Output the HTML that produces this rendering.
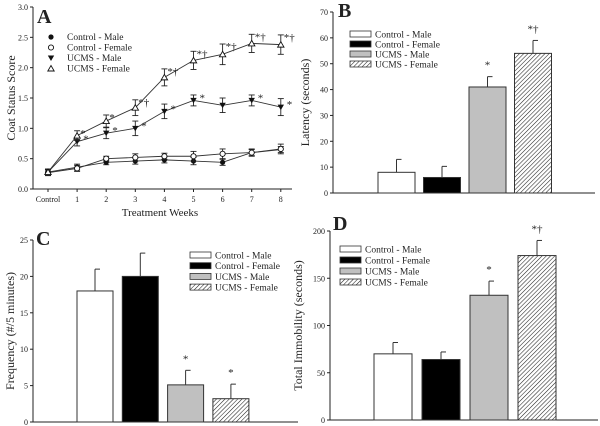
<!DOCTYPE html>
<html><head><meta charset="utf-8"><style>
html,body{margin:0;padding:0;background:#fff;}
svg{display:block;font-family:"Liberation Serif",serif;}
</style></head><body>
<svg id="fig" width="600" height="426" viewBox="0 0 600 426" xmlns="http://www.w3.org/2000/svg">
<defs>
<pattern id="hatch" patternUnits="userSpaceOnUse" width="3" height="3" patternTransform="rotate(45)">
<rect width="3" height="3" fill="#fff"/><line x1="0" y1="0" x2="0" y2="3" stroke="#222" stroke-width="1.1"/></pattern>
</defs>
</svg>
<script>
// Panel A data
const weeksA = ["Control","1","2","3","4","5","6","7","8"];
const ctrlMaleA = [0.28,0.36,0.44,0.46,0.48,0.46,0.44,0.60,0.65];
const ctrlMaleErrA = [0.05,0.05,0.04,0.05,0.05,0.06,0.05,0.05,0.05];
const ctrlFemaleA = [0.27,0.34,0.50,0.52,0.54,0.54,0.58,0.60,0.66];
const ctrlFemaleErrA = [0.05,0.05,0.04,0.06,0.05,0.08,0.08,0.06,0.08];
const ucmsMaleA = [0.28,0.78,0.92,1.00,1.28,1.46,1.38,1.46,1.35];
const ucmsMaleErrA = [0.05,0.07,0.09,0.12,0.12,0.09,0.12,0.09,0.14];
const ucmsFemaleA = [0.28,0.88,1.12,1.34,1.84,2.12,2.22,2.40,2.38];
const ucmsFemaleErrA = [0.05,0.08,0.10,0.13,0.14,0.15,0.17,0.15,0.16];
const ticksA = [0,0.5,1.0,1.5,2.0,2.5,3.0];
const starsMaleA = ["","*","*","*","*","*","","*","*"];
const starsFemaleA = ["","*","*","*†","*†","*†","*†","*†","*†"];
// Bar panels
const groups = ["Control - Male","Control - Female","UCMS - Male","UCMS - Female"];
const latencyB = [8,6,41,54];
const latencyErrB = [5,4.3,4,5];
const starsB = ["","","*","*†"];
const ticksB = [0,10,20,30,40,50,60,70];
const freqC = [18,20,5.1,3.2];
const freqErrC = [3,3.2,2,2];
const starsC = ["","","*","*"];
const ticksC = [0,5,10,15,20,25];
const immD = [70,64,132,174];
const immErrD = [12,8,15,16];
const starsD = ["","","*","*†"];
const ticksD = [0,50,100,150,200];

const svg = document.getElementById('fig');
const NS = "http://www.w3.org/2000/svg";
function el(tag, attrs, parent){const e=document.createElementNS(NS,tag);for(const k in attrs)e.setAttribute(k,attrs[k]);(parent||svg).appendChild(e);return e;}
function txt(x,y,s,size,anchor,extra){const t=el('text',Object.assign({x:x,y:y,'font-size':size,'text-anchor':anchor||'start',fill:'#222'},extra||{}));t.textContent=s;return t;}

// ---------- Panel A ----------
const gA = el('g',{});


const xA0=33,xA1=292,yA0=189,yA1=7;
const yA = v => yA0 - (v/3.0)*(yA0-yA1);
const xA = i => 48 + i*29.1;
el('line',{x1:xA0,y1:yA1,x2:xA0,y2:yA0,stroke:'#222','stroke-width':1},gA);
el('line',{x1:xA0,y1:yA0,x2:xA1,y2:yA0,stroke:'#222','stroke-width':1},gA);
ticksA.forEach(v=>{el('line',{x1:xA0-3,y1:yA(v),x2:xA0,y2:yA(v),stroke:'#222'},gA);
 const t=txt(28,yA(v)+3,v.toFixed(1),8,'end');});
weeksA.forEach((w,i)=>{el('line',{x1:xA(i),y1:yA0,x2:xA(i),y2:yA0+3,stroke:'#222'},gA);
 const t=txt(xA(i),yA0+13,w,8,'middle');});
let t=txt(160,216,"Treatment Weeks",11,'middle');
t=txt(0,0,"Coat Status Score",12,'middle',{transform:'translate(15,98) rotate(-90)'});
t=txt(37,23,"A",20,'start',{'font-weight':'bold'});
function marker(type,x,y,parent){
 if(type==='fc') return el('circle',{cx:x,cy:y,r:2.6,fill:'#111'},parent);
 if(type==='oc') return el('circle',{cx:x,cy:y,r:2.6,fill:'#fff',stroke:'#111','stroke-width':0.9},parent);
 if(type==='td') return el('polygon',{points:`${x-3.2},${y-2.5} ${x+3.2},${y-2.5} ${x},${y+3}`,fill:'#111'},parent);
 return el('polygon',{points:`${x-3.2},${y+2.5} ${x+3.2},${y+2.5} ${x},${y-3}`,fill:'#fff',stroke:'#111','stroke-width':0.9},parent);
}
const seriesA=[[ctrlMaleA,ctrlMaleErrA,'fc','series-control-male'],[ctrlFemaleA,ctrlFemaleErrA,'oc','series-control-female'],[ucmsMaleA,ucmsMaleErrA,'td','series-ucms-male'],[ucmsFemaleA,ucmsFemaleErrA,'tu','series-ucms-female']];
seriesA.forEach(([vals,errs,m,name])=>{
 const g=el('g',{},gA);
 
 
 el('polyline',{points:vals.map((v,i)=>xA(i)+','+yA(v)).join(' '),fill:'none',stroke:'#333','stroke-width':0.9},g);
 vals.forEach((v,i)=>{const x=xA(i);
  el('line',{x1:x,y1:yA(v+errs[i]),x2:x,y2:yA(v-errs[i]),stroke:'#222','stroke-width':0.9},g);
  el('line',{x1:x-3,y1:yA(v+errs[i]),x2:x+3,y2:yA(v+errs[i]),stroke:'#222','stroke-width':0.9},g);
  el('line',{x1:x-3,y1:yA(v-errs[i]),x2:x+3,y2:yA(v-errs[i]),stroke:'#222','stroke-width':0.9},g);
  const mk=marker(m,x,yA(v),g);});
});
starsMaleA.forEach((s,i)=>{if(s){const tt=txt(xA(i)+6,yA(ucmsMaleA[i])+1,s,11,'start');}});
starsFemaleA.forEach((s,i)=>{if(s){const tt=txt(xA(i)+3,yA(ucmsFemaleA[i]+ucmsFemaleErrA[i])+6,s,11,'start');}});
['fc','oc','td','tu'].forEach((m,i)=>{const y=37+i*10.5;const g=el('g',{},gA);
 
 
 marker(m,51,y,g);txt(67,y+3,groups[i],9.5,'start');});

// ---------- Bar panels ----------
function barPanel(cfg){
 const g=el('g',{});
 
 
 const y=v=>cfg.y0-(v/cfg.max)*(cfg.y0-cfg.y1);
 el('line',{x1:cfg.ax,y1:cfg.y1,x2:cfg.ax,y2:cfg.y0,stroke:'#222'},g);
 el('line',{x1:cfg.ax,y1:cfg.y0,x2:cfg.xEnd,y2:cfg.y0,stroke:'#222'},g);
 cfg.ticks.forEach(v=>{el('line',{x1:cfg.ax-3,y1:y(v),x2:cfg.ax,y2:y(v),stroke:'#222'},g);
  const tt=txt(cfg.ax-5,y(v)+3,String(v),8,'end');g.appendChild(tt);});
 const fills=['#fff','#000','#c0c0c0','url(#hatch)'];
 cfg.vals.forEach((v,i)=>{const x=cfg.bx+i*cfg.step;
  el('line',{x1:x+cfg.bw/2,y1:y(v),x2:x+cfg.bw/2,y2:y(v+cfg.errs[i]),stroke:'#333'},g);
  el('line',{x1:x+cfg.bw/2,y1:y(v+cfg.errs[i]),x2:x+cfg.bw/2+5,y2:y(v+cfg.errs[i]),stroke:'#333'},g);
  const r=el('rect',{x:x,y:y(v),width:cfg.bw,height:cfg.y0-y(v),fill:fills[i],stroke:'#333','stroke-width':1},g);
  
  
  if(cfg.stars[i]){const tt=txt(x+cfg.bw/2,y(v+cfg.errs[i])-8,cfg.stars[i],11,'middle');g.appendChild(tt);}
 });
 groups.forEach((s,i)=>{const ly=cfg.ly+i*cfg.lstep;
  el('rect',{x:cfg.lx,y:ly,width:21,height:6,fill:fills[i],stroke:'#333','stroke-width':0.8},g);
  const tt=txt(cfg.lx+25,ly+6.5,s,9.5,'start');g.appendChild(tt);});
 let tt=txt(0,0,cfg.ytitle,12,'middle',{transform:`translate(${cfg.tx},${(cfg.y0+cfg.y1)/2}) rotate(-90)`});g.appendChild(tt);
 tt=txt(cfg.lblx,cfg.lbly,cfg.label,20,'start',{'font-weight':'bold'});g.appendChild(tt);
}
barPanel({name:'panel-b-bar-chart',ax:333,y0:193,y1:12,max:70,xEnd:595,bx:378,bw:37,step:45.5,vals:latencyB,errs:latencyErrB,stars:starsB,ticks:ticksB,lx:350,ly:31,lstep:10,ytitle:'Latency (seconds)',tx:309,label:'B',lblx:338,lbly:17});
barPanel({name:'panel-c-bar-chart',ax:33,y0:422,y1:240,max:25,xEnd:298,bx:77,bw:36,step:45.3,vals:freqC,errs:freqErrC,stars:starsC,ticks:ticksC,lx:190,ly:252,lstep:10.7,ytitle:'Frequency (#/5 minutes)',tx:14,label:'C',lblx:36,lbly:245});
barPanel({name:'panel-d-bar-chart',ax:330,y0:420,y1:231,max:200,xEnd:598,bx:374,bw:38,step:48,vals:immD,errs:immErrD,stars:starsD,ticks:ticksD,lx:340,ly:246,lstep:11,ytitle:'Total Immobility (seconds)',tx:302,label:'D',lblx:333,lbly:230});
</script>
</body></html>
